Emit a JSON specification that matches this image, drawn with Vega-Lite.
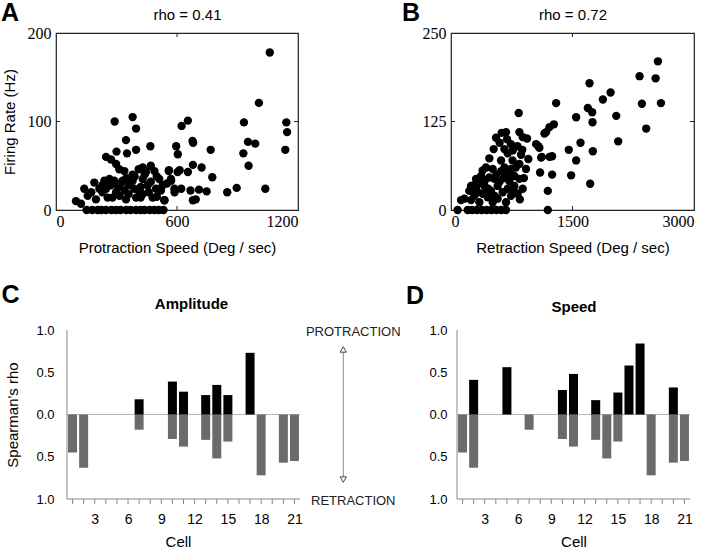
{
  "$schema": "https://vega.github.io/schema/vega-lite/v6.json",
  "padding": {"left": 0, "top": 0, "right": 0, "bottom": 0},
  "config": {
    "font": "Liberation Sans",
    "view": {"stroke": null},
    "scale": {"continuousPadding": 0},
    "axis": {"grid": false, "domain": false, "ticks": false, "titleFontWeight": "normal", "titleFontSize": 15, "titleColor": "#000", "labelColor": "#000", "labelFont": "Liberation Sans", "titleFont": "Liberation Sans"},
    "title": {"font": "Liberation Sans", "fontSize": 25, "fontWeight": "bold", "anchor": "start", "frame": "bounds", "color": "#000", "baseline": "alphabetic"}
  },
  "datasets": {
    "protraction": [
      {"speed":1060,"rate":178},{"speed":1006,"rate":121},{"speed":932,"rate":99},{"speed":1142,"rate":99},{"speed":1146,"rate":88},{"speed":1137,"rate":68},{"speed":952,"rate":77},{"speed":988,"rate":75},{"speed":929,"rate":64},{"speed":955,"rate":50},{"speed":1038,"rate":24},{"speed":896,"rate":25},{"speed":849,"rate":20},{"speed":767,"rate":68},{"speed":775,"rate":37},{"speed":722,"rate":48},{"speed":677,"rate":78},{"speed":680,"rate":76},{"speed":679,"rate":51},{"speed":654,"rate":101},{"speed":623,"rate":95},{"speed":596,"rate":72},{"speed":604,"rate":63},{"speed":560,"rate":45},{"speed":571,"rate":33},{"speed":613,"rate":45},{"speed":654,"rate":43},{"speed":747,"rate":21},{"speed":709,"rate":23},{"speed":667,"rate":22},{"speed":679,"rate":11},{"speed":693,"rate":12},{"speed":621,"rate":24},{"speed":588,"rate":20},{"speed":538,"rate":11},
      {"speed":291,"rate":100},{"speed":380,"rate":105},{"speed":397,"rate":92},{"speed":347,"rate":79},{"speed":468,"rate":72},{"speed":352,"rate":64},{"speed":397,"rate":68},{"speed":300,"rate":66},{"speed":248,"rate":60},{"speed":273,"rate":57},{"speed":298,"rate":52},{"speed":314,"rate":46},{"speed":339,"rate":44},{"speed":410,"rate":46},{"speed":446,"rate":43},{"speed":488,"rate":44},{"speed":559,"rate":44},{"speed":603,"rate":43},{"speed":570,"rate":35},{"speed":512,"rate":35},{"speed":430,"rate":35},{"speed":380,"rate":33},{"speed":330,"rate":33},{"speed":289,"rate":33},{"speed":240,"rate":33},{"speed":190,"rate":31},{"speed":215,"rate":24},{"speed":140,"rate":24},{"speed":157,"rate":16},{"speed":99,"rate":10},{"speed":124,"rate":7},{"speed":198,"rate":12},{"speed":256,"rate":14},{"speed":298,"rate":20},{"speed":339,"rate":22},{"speed":388,"rate":24},{"speed":430,"rate":18},{"speed":479,"rate":14},{"speed":537,"rate":11},{"speed":496,"rate":24},{"speed":455,"rate":28},{"speed":529,"rate":28},{"speed":587,"rate":24},{"speed":347,"rate":12},{"speed":397,"rate":14},{"speed":306,"rate":26},{"speed":248,"rate":24},
      {"speed":230,"rate":20},{"speed":270,"rate":28},{"speed":320,"rate":30},{"speed":360,"rate":28},{"speed":420,"rate":26},{"speed":470,"rate":32},{"speed":500,"rate":38},{"speed":440,"rate":40},{"speed":380,"rate":40},{"speed":410,"rate":22},{"speed":460,"rate":20},{"speed":360,"rate":18},{"speed":280,"rate":14},{"speed":230,"rate":28},{"speed":175,"rate":20},{"speed":520,"rate":22},{"speed":550,"rate":30},{"speed":470,"rate":50},{"speed":430,"rate":48},{"speed":390,"rate":38},{"speed":350,"rate":36},{"speed":265,"rate":35},{"speed":420,"rate":14},{"speed":500,"rate":15},{"speed":315,"rate":16},
      {"speed":152,"rate":0},{"speed":207,"rate":0},{"speed":248,"rate":0},{"speed":298,"rate":0},{"speed":348,"rate":0},{"speed":397,"rate":0},{"speed":439,"rate":0},{"speed":488,"rate":0},{"speed":533,"rate":0},{"speed":180,"rate":0},{"speed":225,"rate":0},{"speed":275,"rate":0},{"speed":320,"rate":0},{"speed":370,"rate":0},{"speed":420,"rate":0},{"speed":465,"rate":0},{"speed":510,"rate":0}
    ],
    "retraction": [
      {"speed":2555,"rate":210},{"speed":2328,"rate":189},{"speed":2526,"rate":186},{"speed":1710,"rate":179},{"speed":1970,"rate":166},{"speed":1875,"rate":156},{"speed":1298,"rate":151},{"speed":2357,"rate":150},{"speed":2592,"rate":151},{"speed":1689,"rate":144},{"speed":1743,"rate":138},{"speed":836,"rate":137},{"speed":1545,"rate":131},{"speed":2040,"rate":133},{"speed":1747,"rate":124},{"speed":2410,"rate":115},{"speed":1270,"rate":121},{"speed":1216,"rate":117},{"speed":1175,"rate":110},{"speed":1154,"rate":108},{"speed":2064,"rate":97},{"speed":1599,"rate":95},{"speed":1454,"rate":85},{"speed":1751,"rate":83},{"speed":1545,"rate":70},{"speed":1079,"rate":90},{"speed":1051,"rate":93},{"speed":1121,"rate":75},{"speed":1216,"rate":75},{"speed":1248,"rate":76},{"speed":1100,"rate":53},{"speed":1248,"rate":50},{"speed":1483,"rate":49},{"speed":1195,"rate":27},{"speed":1718,"rate":37},{"speed":1195,"rate":0},
      {"speed":844,"rate":110},{"speed":626,"rate":109},{"speed":556,"rate":102},{"speed":692,"rate":100},{"speed":885,"rate":103},{"speed":939,"rate":101},{"speed":741,"rate":93},{"speed":527,"rate":86},{"speed":659,"rate":86},{"speed":762,"rate":84},{"speed":865,"rate":78},{"speed":955,"rate":72},{"speed":1091,"rate":88},{"speed":1112,"rate":74},{"speed":473,"rate":73},{"speed":432,"rate":60},{"speed":391,"rate":56},{"speed":515,"rate":58},{"speed":618,"rate":70},{"speed":659,"rate":60},{"speed":700,"rate":51},{"speed":782,"rate":48},{"speed":844,"rate":44},{"speed":720,"rate":41},{"speed":782,"rate":34},{"speed":885,"rate":30},{"speed":823,"rate":23},{"speed":741,"rate":20},{"speed":638,"rate":25},{"speed":576,"rate":34},{"speed":535,"rate":44},{"speed":473,"rate":46},{"speed":371,"rate":48},{"speed":309,"rate":44},{"speed":247,"rate":34},{"speed":226,"rate":27},{"speed":309,"rate":30},{"speed":412,"rate":34},{"speed":494,"rate":27},{"speed":391,"rate":23},{"speed":288,"rate":20},{"speed":165,"rate":16},{"speed":124,"rate":14},{"speed":453,"rate":18},{"speed":576,"rate":16},{"speed":247,"rate":14},{"speed":350,"rate":11},{"speed":515,"rate":11},{"speed":679,"rate":11},{"speed":926,"rate":58},{"speed":844,"rate":65},{"speed":741,"rate":58},
      {"speed":600,"rate":95},{"speed":700,"rate":80},{"speed":760,"rate":70},{"speed":820,"rate":90},{"speed":680,"rate":110},{"speed":880,"rate":85},{"speed":360,"rate":38},{"speed":420,"rate":42},{"speed":460,"rate":30},{"speed":540,"rate":20},{"speed":600,"rate":40},{"speed":650,"rate":45},{"speed":800,"rate":60},{"speed":900,"rate":45},{"speed":280,"rate":35},{"speed":330,"rate":25},{"speed":430,"rate":26},{"speed":560,"rate":50},{"speed":620,"rate":55},{"speed":850,"rate":15},{"speed":780,"rate":25},{"speed":700,"rate":30},
      {"speed":82,"rate":0},{"speed":206,"rate":0},{"speed":260,"rate":0},{"speed":320,"rate":0},{"speed":380,"rate":0},{"speed":440,"rate":0},{"speed":500,"rate":0},{"speed":560,"rate":0},{"speed":620,"rate":0},{"speed":679,"rate":0}
    ],
    "cells": [
      {"panel":"Amplitude","dir":"Protraction","cell":7,"rho":0.18},{"panel":"Amplitude","dir":"Protraction","cell":10,"rho":0.39},{"panel":"Amplitude","dir":"Protraction","cell":11,"rho":0.27},{"panel":"Amplitude","dir":"Protraction","cell":13,"rho":0.23},{"panel":"Amplitude","dir":"Protraction","cell":14,"rho":0.35},{"panel":"Amplitude","dir":"Protraction","cell":15,"rho":0.23},{"panel":"Amplitude","dir":"Protraction","cell":17,"rho":0.73},
      {"panel":"Amplitude","dir":"Retraction","cell":1,"rho":-0.45},{"panel":"Amplitude","dir":"Retraction","cell":2,"rho":-0.63},{"panel":"Amplitude","dir":"Retraction","cell":7,"rho":-0.18},{"panel":"Amplitude","dir":"Retraction","cell":10,"rho":-0.29},{"panel":"Amplitude","dir":"Retraction","cell":11,"rho":-0.38},{"panel":"Amplitude","dir":"Retraction","cell":13,"rho":-0.30},{"panel":"Amplitude","dir":"Retraction","cell":14,"rho":-0.52},{"panel":"Amplitude","dir":"Retraction","cell":15,"rho":-0.32},{"panel":"Amplitude","dir":"Retraction","cell":18,"rho":-0.72},{"panel":"Amplitude","dir":"Retraction","cell":20,"rho":-0.57},{"panel":"Amplitude","dir":"Retraction","cell":21,"rho":-0.55},
      {"panel":"Speed","dir":"Protraction","cell":2,"rho":0.41},{"panel":"Speed","dir":"Protraction","cell":5,"rho":0.56},{"panel":"Speed","dir":"Protraction","cell":10,"rho":0.29},{"panel":"Speed","dir":"Protraction","cell":11,"rho":0.48},{"panel":"Speed","dir":"Protraction","cell":13,"rho":0.17},{"panel":"Speed","dir":"Protraction","cell":15,"rho":0.26},{"panel":"Speed","dir":"Protraction","cell":16,"rho":0.58},{"panel":"Speed","dir":"Protraction","cell":17,"rho":0.84},{"panel":"Speed","dir":"Protraction","cell":20,"rho":0.32},
      {"panel":"Speed","dir":"Retraction","cell":1,"rho":-0.45},{"panel":"Speed","dir":"Retraction","cell":2,"rho":-0.63},{"panel":"Speed","dir":"Retraction","cell":7,"rho":-0.18},{"panel":"Speed","dir":"Retraction","cell":10,"rho":-0.29},{"panel":"Speed","dir":"Retraction","cell":11,"rho":-0.38},{"panel":"Speed","dir":"Retraction","cell":13,"rho":-0.30},{"panel":"Speed","dir":"Retraction","cell":14,"rho":-0.52},{"panel":"Speed","dir":"Retraction","cell":15,"rho":-0.32},{"panel":"Speed","dir":"Retraction","cell":18,"rho":-0.72},{"panel":"Speed","dir":"Retraction","cell":20,"rho":-0.57},{"panel":"Speed","dir":"Retraction","cell":21,"rho":-0.55}
    ],
    "cellIds": [{"cell":1},{"cell":2},{"cell":3},{"cell":4},{"cell":5},{"cell":6},{"cell":7},{"cell":8},{"cell":9},{"cell":10},{"cell":11},{"cell":12},{"cell":13},{"cell":14},{"cell":15},{"cell":16},{"cell":17},{"cell":18},{"cell":19},{"cell":20},{"cell":21}]
  },
  "columns": 1,
  "align": "none",
  "spacing": 27,
  "concat": [
    {
      "hconcat": [
        {
          "width": 242, "height": 177,
          "view": {"stroke": "#222", "strokeWidth": 1.2},
          "title": {"text": "A", "offset": -19, "dx": -1.5},
          "data": {"name": "protraction"},
          "layer": [
            {
              "mark": {"type": "circle", "size": 70, "color": "#000", "opacity": 1},
              "encoding": {
                "x": {"field": "speed", "type": "quantitative", "scale": {"domain": [0, 1200], "nice": false},
                  "axis": {"orient": "bottom", "values": [0, 600, 1200], "format": "d", "title": "Protraction Speed (Deg / sec)", "labelFont": "Liberation Serif", "labelFontSize": 16, "labelPadding": 3, "titlePadding": 11}},
                "y": {"field": "rate", "type": "quantitative", "scale": {"domain": [0, 200], "nice": false},
                  "axis": {"orient": "left", "values": [0, 100, 200], "format": "d", "title": "Firing Rate (Hz)", "labelFont": "Liberation Serif", "labelFontSize": 16, "labelPadding": 5, "titlePadding": 9.5}}
              }
            },
            {
              "mark": {"type": "circle", "size": 70, "opacity": 0},
              "encoding": {
                "x": {"field": "speed", "type": "quantitative", "scale": {"domain": [0, 1200], "nice": false},
                  "axis": {"orient": "top", "labels": false, "title": "rho = 0.41", "titlePadding": 11, "titleX": 131}},
                "y": {"field": "rate", "type": "quantitative", "scale": {"domain": [0, 200], "nice": false}, "axis": null}
              }
            },
            {"data": {"values": [{}]}, "mark": {"type": "rule", "color": "#222"},
             "encoding": {"x": {"datum": 600, "type": "quantitative", "axis": null}, "y": {"datum": 0, "type": "quantitative", "axis": null}, "y2": {"datum": 4.5}}},
            {"data": {"values": [{}]}, "mark": {"type": "rule", "color": "#222"},
             "encoding": {"x": {"datum": 600, "type": "quantitative", "axis": null}, "y": {"datum": 200, "type": "quantitative", "axis": null}, "y2": {"datum": 195.5}}},
            {"data": {"values": [{}]}, "mark": {"type": "rule", "color": "#222"},
             "encoding": {"y": {"datum": 100, "type": "quantitative", "axis": null}, "x": {"datum": 0, "type": "quantitative", "axis": null}, "x2": {"datum": 20}}},
            {"data": {"values": [{}]}, "mark": {"type": "rule", "color": "#222"},
             "encoding": {"y": {"datum": 100, "type": "quantitative", "axis": null}, "x": {"datum": 1200, "type": "quantitative", "axis": null}, "x2": {"datum": 1180}}}
          ],
          "resolve": {"axis": {"x": "independent", "y": "independent"}}
        },
        {
          "width": 243, "height": 177,
          "view": {"stroke": "#222", "strokeWidth": 1.2},
          "title": {"text": "B", "offset": -19, "dx": -20},
          "data": {"name": "retraction"},
          "layer": [
            {
              "mark": {"type": "circle", "size": 70, "color": "#000", "opacity": 1},
              "encoding": {
                "x": {"field": "speed", "type": "quantitative", "scale": {"domain": [0, 3000], "nice": false},
                  "axis": {"orient": "bottom", "values": [0, 1500, 3000], "format": "d", "title": "Retraction Speed (Deg / sec)", "labelFont": "Liberation Serif", "labelFontSize": 16, "labelPadding": 3, "titlePadding": 11}},
                "y": {"field": "rate", "type": "quantitative", "scale": {"domain": [0, 250], "nice": false},
                  "axis": {"orient": "left", "values": [0, 125, 250], "format": "d", "title": null, "labelFont": "Liberation Serif", "labelFontSize": 16, "labelPadding": 5}}
              }
            },
            {
              "mark": {"type": "circle", "size": 70, "opacity": 0},
              "encoding": {
                "x": {"field": "speed", "type": "quantitative", "scale": {"domain": [0, 3000], "nice": false},
                  "axis": {"orient": "top", "labels": false, "title": "rho = 0.72", "titlePadding": 11}},
                "y": {"field": "rate", "type": "quantitative", "scale": {"domain": [0, 250], "nice": false}, "axis": null}
              }
            },
            {"data": {"values": [{}]}, "mark": {"type": "rule", "color": "#222"},
             "encoding": {"x": {"datum": 1500, "type": "quantitative", "axis": null}, "y": {"datum": 0, "type": "quantitative", "axis": null}, "y2": {"datum": 5.6}}},
            {"data": {"values": [{}]}, "mark": {"type": "rule", "color": "#222"},
             "encoding": {"x": {"datum": 1500, "type": "quantitative", "axis": null}, "y": {"datum": 250, "type": "quantitative", "axis": null}, "y2": {"datum": 244.4}}},
            {"data": {"values": [{}]}, "mark": {"type": "rule", "color": "#222"},
             "encoding": {"y": {"datum": 125, "type": "quantitative", "axis": null}, "x": {"datum": 0, "type": "quantitative", "axis": null}, "x2": {"datum": 50}}},
            {"data": {"values": [{}]}, "mark": {"type": "rule", "color": "#222"},
             "encoding": {"y": {"datum": 125, "type": "quantitative", "axis": null}, "x": {"datum": 3000, "type": "quantitative", "axis": null}, "x2": {"datum": 2950}}}
          ],
          "resolve": {"axis": {"x": "independent", "y": "independent"}}
        }
      ],
      "spacing": 101
    },
    {
      "hconcat": [
        {
          "width": 244, "height": 169,
          "title": {"text": "C", "offset": -12, "dx": -4},
          "layer": [
            {
              "data": {"values": [{"rho": 0}]},
              "mark": {"type": "rule", "color": "#b5b5b5", "strokeWidth": 1},
              "encoding": {
                "x": {"datum": 0.5, "type": "quantitative", "scale": {"domain": [-0.4914, 21.5], "nice": false, "zero": false, "padding": 0}, "axis": null},
                "x2": {"datum": 21.5},
                "y": {"field": "rho", "type": "quantitative", "scale": {"domain": [-1, 1], "nice": false},
                  "axis": {"values": [-1, -0.5, 0, 0.5, 1], "labelExpr": "format(abs(datum.value), '.1f')", "title": "Spearman's rho", "labelFontSize": 13, "offset": -11, "labelPadding": 13, "titlePadding": 15.5}}
              }
            },
            {
              "data": {"name": "cellIds"},
              "mark": {"type": "rule", "color": "#888", "strokeWidth": 1},
              "encoding": {
                "x": {"field": "cell", "type": "quantitative", "scale": {"domain": [-0.4914, 21.5], "nice": false, "zero": false, "padding": 0}, "axis": null},
                "y": {"datum": -1, "type": "quantitative", "scale": {"domain": [-1, 1], "nice": false}},
                "y2": {"datum": -1.06}
              }
            },
            {
              "data": {"name": "cells"},
              "transform": [{"filter": "datum.panel === 'Amplitude' && datum.dir === 'Retraction'"}],
              "mark": {"type": "bar", "color": "#6b6b6b", "width": 9},
              "encoding": {
                "x": {"field": "cell", "type": "quantitative", "scale": {"domain": [-0.4914, 21.5], "nice": false, "zero": false, "padding": 0},
                  "axis": {"orient": "bottom", "values": [3, 6, 9, 12, 15, 18, 21], "title": "Cell", "labelFontSize": 14, "labelPadding": 13, "titlePadding": 8}},
                "y": {"field": "rho", "type": "quantitative", "stack": null, "scale": {"domain": [-1, 1], "nice": false}}
              }
            },
            {
              "data": {"name": "cells"},
              "transform": [{"filter": "datum.panel === 'Amplitude' && datum.dir === 'Protraction'"}],
              "mark": {"type": "bar", "color": "#000", "width": 9},
              "encoding": {
                "x": {"field": "cell", "type": "quantitative", "scale": {"domain": [-0.4914, 21.5], "nice": false, "zero": false, "padding": 0},
                  "axis": {"orient": "top", "labels": false, "title": "Amplitude", "titleFontWeight": "bold", "titlePadding": 19, "titleX": 135}},
                "y": {"field": "rho", "type": "quantitative", "stack": null, "scale": {"domain": [-1, 1], "nice": false}}
              }
            },
            {
              "data": {"values": [{}]},
              "mark": {"type": "rule", "color": "#888", "strokeWidth": 1},
              "encoding": {
                "x": {"datum": 0.5, "type": "quantitative", "scale": {"domain": [-0.4914, 21.5], "nice": false, "zero": false, "padding": 0}, "axis": null},
                "y": {"datum": -1, "type": "quantitative", "scale": {"domain": [-1, 1], "nice": false}},
                "y2": {"datum": 1}
              }
            },
            {
              "data": {"values": [{}]},
              "mark": {"type": "rule", "color": "#888", "strokeWidth": 1},
              "encoding": {
                "x": {"datum": 0.5, "type": "quantitative", "scale": {"domain": [-0.4914, 21.5], "nice": false, "zero": false, "padding": 0}, "axis": null},
                "x2": {"datum": 21.5},
                "y": {"datum": -1, "type": "quantitative", "scale": {"domain": [-1, 1], "nice": false}}
              }
            },
            {
              "data": {"values": [{"label": "PROTRACTION", "rho": 1}, {"label": "RETRACTION", "rho": -1}]},
              "mark": {"type": "text", "fontSize": 13, "color": "#222", "baseline": "middle", "align": "center", "dy": 2},
              "encoding": {
                "x": {"datum": 26.3, "type": "quantitative", "scale": {"domain": [-0.4914, 21.5], "nice": false, "zero": false, "padding": 0}, "axis": null},
                "y": {"field": "rho", "type": "quantitative", "scale": {"domain": [-1, 1], "nice": false}},
                "text": {"field": "label"}
              }
            },
            {
              "data": {"values": [{}]},
              "mark": {"type": "rule", "color": "#888", "strokeWidth": 1},
              "encoding": {
                "x": {"datum": 25.4, "type": "quantitative", "scale": {"domain": [-0.4914, 21.5], "nice": false, "zero": false, "padding": 0}, "axis": null},
                "y": {"datum": 0.77, "type": "quantitative", "scale": {"domain": [-1, 1], "nice": false}},
                "y2": {"datum": -0.77}
              }
            },
            {
              "data": {"values": [{}]},
              "mark": {"type": "point", "shape": "triangle-up", "filled": true, "fill": "#fff", "stroke": "#444", "strokeWidth": 1, "size": 40, "opacity": 1},
              "encoding": {
                "x": {"datum": 25.4, "type": "quantitative", "scale": {"domain": [-0.4914, 21.5], "nice": false, "zero": false, "padding": 0}, "axis": null},
                "y": {"datum": 0.77, "type": "quantitative", "scale": {"domain": [-1, 1], "nice": false}}
              }
            },
            {
              "data": {"values": [{}]},
              "mark": {"type": "point", "shape": "triangle-down", "filled": true, "fill": "#fff", "stroke": "#444", "strokeWidth": 1, "size": 40, "opacity": 1},
              "encoding": {
                "x": {"datum": 25.4, "type": "quantitative", "scale": {"domain": [-0.4914, 21.5], "nice": false, "zero": false, "padding": 0}, "axis": null},
                "y": {"datum": -0.77, "type": "quantitative", "scale": {"domain": [-1, 1], "nice": false}}
              }
            }
          ],
          "resolve": {"axis": {"x": "independent"}}
        },
        {
          "width": 233, "height": 169,
          "title": {"text": "D", "offset": -10, "dx": -23},
          "layer": [
            {
              "data": {"values": [{"rho": 0}]},
              "mark": {"type": "rule", "color": "#b5b5b5", "strokeWidth": 1},
              "encoding": {
                "y": {"field": "rho", "type": "quantitative", "scale": {"domain": [-1, 1], "nice": false},
                  "axis": {"values": [-1, -0.5, 0, 0.5, 1], "labelExpr": "format(abs(datum.value), '.1f')", "title": null, "labelFontSize": 13, "labelPadding": 10}}
              }
            },
            {
              "data": {"name": "cellIds"},
              "mark": {"type": "rule", "color": "#888", "strokeWidth": 1},
              "encoding": {
                "x": {"field": "cell", "type": "quantitative", "scale": {"domain": [0.5, 21.5], "nice": false, "zero": false, "padding": 0}, "axis": null},
                "y": {"datum": -1, "type": "quantitative", "scale": {"domain": [-1, 1], "nice": false}},
                "y2": {"datum": -1.06}
              }
            },
            {
              "data": {"name": "cells"},
              "transform": [{"filter": "datum.panel === 'Speed' && datum.dir === 'Retraction'"}],
              "mark": {"type": "bar", "color": "#6b6b6b", "width": 9},
              "encoding": {
                "x": {"field": "cell", "type": "quantitative", "scale": {"domain": [0.5, 21.5], "nice": false, "zero": false, "padding": 0},
                  "axis": {"orient": "bottom", "values": [3, 6, 9, 12, 15, 18, 21], "title": "Cell", "labelFontSize": 14, "labelPadding": 13, "titlePadding": 8}},
                "y": {"field": "rho", "type": "quantitative", "stack": null, "scale": {"domain": [-1, 1], "nice": false}}
              }
            },
            {
              "data": {"name": "cells"},
              "transform": [{"filter": "datum.panel === 'Speed' && datum.dir === 'Protraction'"}],
              "mark": {"type": "bar", "color": "#000", "width": 9},
              "encoding": {
                "x": {"field": "cell", "type": "quantitative", "scale": {"domain": [0.5, 21.5], "nice": false, "zero": false, "padding": 0},
                  "axis": {"orient": "top", "labels": false, "title": "Speed", "titleFontWeight": "bold", "titlePadding": 16}},
                "y": {"field": "rho", "type": "quantitative", "stack": null, "scale": {"domain": [-1, 1], "nice": false}}
              }
            },
            {
              "data": {"values": [{}]},
              "mark": {"type": "rule", "color": "#888", "strokeWidth": 1},
              "encoding": {
                "x": {"datum": 0.5, "type": "quantitative", "scale": {"domain": [0.5, 21.5], "nice": false, "zero": false, "padding": 0}, "axis": null},
                "y": {"datum": -1, "type": "quantitative", "scale": {"domain": [-1, 1], "nice": false}},
                "y2": {"datum": 1}
              }
            },
            {
              "data": {"values": [{}]},
              "mark": {"type": "rule", "color": "#888", "strokeWidth": 1},
              "encoding": {
                "x": {"datum": 0.5, "type": "quantitative", "scale": {"domain": [0.5, 21.5], "nice": false, "zero": false, "padding": 0}, "axis": null},
                "x2": {"datum": 21.5},
                "y": {"datum": -1, "type": "quantitative", "scale": {"domain": [-1, 1], "nice": false}}
              }
            }
          ],
          "resolve": {"axis": {"x": "independent"}}
        }
      ],
      "spacing": 4
    }
  ]
}
